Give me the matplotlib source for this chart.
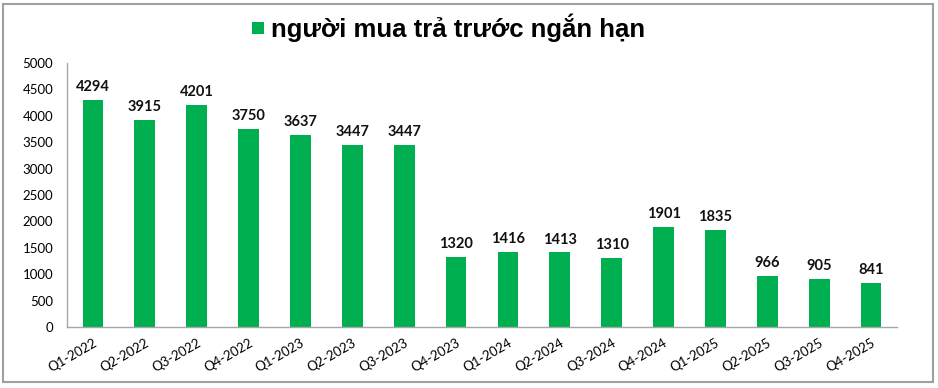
import matplotlib
matplotlib.use("Agg")
import matplotlib.pyplot as plt
from matplotlib.patches import Rectangle

categories = ["Q1-2022", "Q2-2022", "Q3-2022", "Q4-2022", "Q1-2023", "Q2-2023", "Q3-2023",
              "Q4-2023", "Q1-2024", "Q2-2024", "Q3-2024", "Q4-2024", "Q1-2025", "Q2-2025",
              "Q3-2025", "Q4-2025"]
values = [4294, 3915, 4201, 3750, 3637, 3447, 3447, 1320, 1416, 1413, 1310, 1901, 1835, 966, 905, 841]
series_name = "người mua trả trước ngắn hạn"
yticks = [0, 500, 1000, 1500, 2000, 2500, 3000, 3500, 4000, 4500, 5000]

green = "#00B050"
W, H = 938, 388
fig = plt.figure(figsize=(W / 100, H / 100), dpi=100)
ax = fig.add_axes([67 / W, 1 - 327 / H, (897 - 67) / W, (327 - 63) / H])

x = list(range(len(categories)))
ax.bar(x, values, width=0.4, color=green, zorder=2)
for xi, v in zip(x, values):
    ax.text(xi, v + 110, str(v), ha="center", va="bottom", fontsize=10.5, fontweight="bold",
            family=["Lato", "DejaVu Sans"], color="#111111")

ax.set_xlim(-0.5, len(categories) - 0.5)
ax.set_ylim(0, 5000)
ax.set_yticks(yticks)
ax.set_yticklabels([str(t) for t in yticks], fontsize=9.5, family=["Lato", "DejaVu Sans"])
ax.set_xticks(x)
ax.set_xticklabels(categories, rotation=30, ha="right", rotation_mode="anchor", fontsize=9.5,
                   family=["Lato", "DejaVu Sans"])
ax.tick_params(axis="y", length=0, pad=10)
ax.tick_params(axis="x", length=0, pad=7)
for s in ["top", "right"]:
    ax.spines[s].set_visible(False)
for s in ["left", "bottom"]:
    ax.spines[s].set_color("#A6A6A6")
    ax.spines[s].set_linewidth(1)

# title with legend marker
fig.patches.append(Rectangle((252 / W, 1 - 34 / H), 12 / W, 12 / H, transform=fig.transFigure,
                             facecolor=green, edgecolor="none"))
fig.text(271 / W, 1 - 37 / H, series_name, fontsize=18.5, fontweight="bold", ha="left", va="baseline",
         family=["Liberation Sans", "DejaVu Sans"], color="black")

# border
fig.patches.append(Rectangle((3 / W, 1 - 382 / H), (933 - 3) / W, (382 - 4) / H,
                             transform=fig.transFigure, fill=False, edgecolor="#A0A0A0", linewidth=1.5))

fig.savefig("out.png", dpi=100)
